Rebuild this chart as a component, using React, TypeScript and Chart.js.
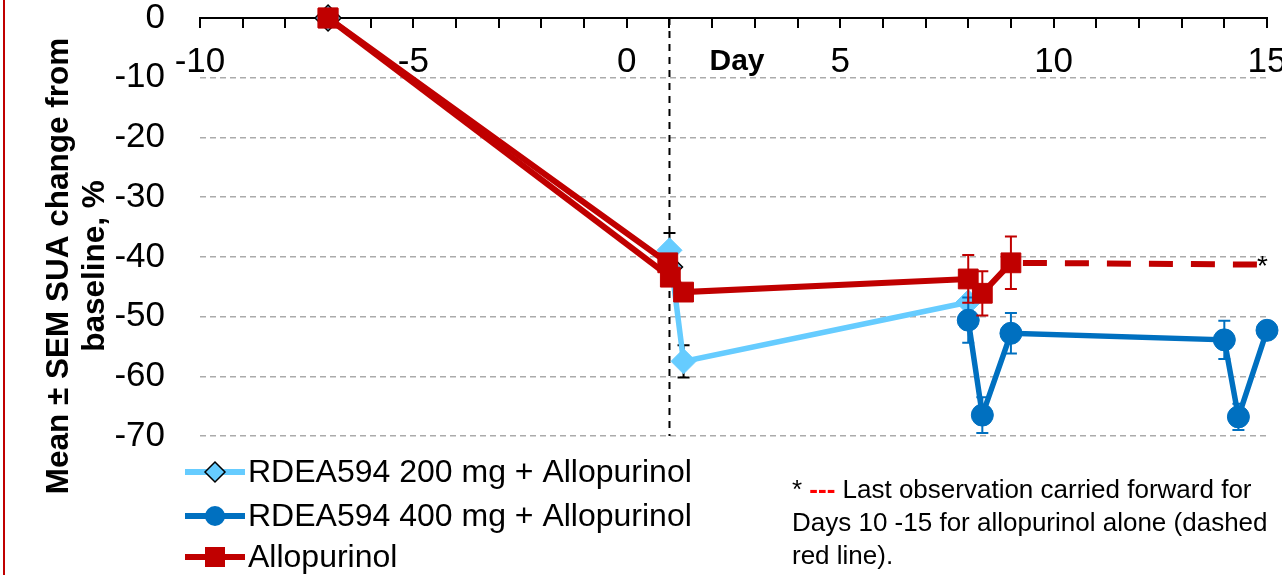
import React, { useEffect, useRef } from 'react';
import { Chart, registerables } from 'chart.js';

Chart.register(...registerables);

const FONT = "Arial, 'Liberation Sans', Helvetica, sans-serif";

// Axes
const X_MIN = -10;
const X_MAX = 15;
const X_STEP = 1;
const X_LABEL_EVERY = 5;
const Y_MIN = -70;
const Y_MAX = 0;
const Y_STEP = 10;
const DOSING_DAY = 1;

const Y_TITLE = ['Mean \u00b1 SEM SUA change from', 'baseline, %'];
const X_TITLE = 'Day';

// Series: Allopurinol (main)
const alloDays = [-7, 0.96, 1.33, 8, 8.33, 9];
const alloValues = [0, -41.0, -45.9, -43.7, -46.1, -41.0];
const alloSem = [0, 0, 0, 4.0, 3.7, 4.4];

// Allopurinol second run-in trace
const allo2Days = [-7, 1.02];
const allo2Values = [0, -43.4];

// Allopurinol LOCF (dashed)
const locfDays = [9, 15];
const locfValues = [-41.0, -41.3];

// RDEA594 200 mg + Allopurinol
const r200Days = [1.0, 1.33, 8];
const r200Values = [-38.9, -57.5, -47.6];
const r200Sem = [2.9, 2.7, 0];

// RDEA594 200 mg run-in markers (mostly hidden)
const r200RunDays = [-7, 1.0];
const r200RunValues = [0, -41.7];

// RDEA594 400 mg + Allopurinol
const r400Days = [8, 8.33, 9, 14, 14.33, 15];
const r400Values = [-50.6, -66.5, -52.8, -53.9, -66.8, -52.3];
const r400Sem = [3.8, 3.0, 3.4, 3.2, 2.2, 0];

const LEGEND_LABELS = ['RDEA594 200 mg + Allopurinol', 'RDEA594 400 mg + Allopurinol', 'Allopurinol'];
const NOTE_LINES = ['Last observation carried forward for', 'Days 10 -15 for allopurinol alone (dashed', 'red line).'];

const RED = '#C00000';
const DARK_BLUE = '#0070C0';
const LIGHT_BLUE = '#66CCFF';

const pts = (xs: number[], ys: number[]) => xs.map((x, i) => ({ x, y: ys[i] }));

const overlayPlugin = {
  id: 'overlay',
  beforeDatasetsDraw(chart: any) {
    const { ctx, chartArea, scales } = chart;
    const px = scales.x.getPixelForValue(DOSING_DAY);
    ctx.save();
    ctx.strokeStyle = '#000';
    ctx.lineWidth = 2;
    ctx.setLineDash([7, 6]);
    ctx.beginPath();
    ctx.moveTo(px, chartArea.top);
    ctx.lineTo(px, chartArea.bottom);
    ctx.stroke();
    ctx.restore();
  },
  beforeDatasetDraw(chart: any, args: any) {
    const ds = chart.data.datasets[args.index];
    if (!ds.sem) return;
    const { ctx, scales } = chart;
    ctx.save();
    ctx.strokeStyle = ds.semColor;
    ctx.lineWidth = 2;
    ctx.setLineDash([]);
    ds.data.forEach((p: any, i: number) => {
      const s = ds.sem[i];
      if (!s) return;
      const px = scales.x.getPixelForValue(p.x);
      const top = scales.y.getPixelForValue(p.y + s);
      const bot = scales.y.getPixelForValue(p.y - s);
      ctx.beginPath();
      ctx.moveTo(px, top);
      ctx.lineTo(px, bot);
      ctx.moveTo(px - 6, top);
      ctx.lineTo(px + 6, top);
      ctx.moveTo(px - 6, bot);
      ctx.lineTo(px + 6, bot);
      ctx.stroke();
    });
    ctx.restore();
  },
  afterDraw(chart: any) {
    const { ctx, scales } = chart;
    ctx.save();
    // Y title
    ctx.fillStyle = '#000';
    ctx.font = `bold 31.5px ${FONT}`;
    ctx.textAlign = 'center';
    ctx.textBaseline = 'middle';
    [59, 95].forEach((cx, i) => {
      ctx.save();
      ctx.translate(cx, 266);
      ctx.rotate(-Math.PI / 2);
      ctx.fillText(Y_TITLE[i], 0, 0);
      ctx.restore();
    });
    // X title
    ctx.font = `bold 30px ${FONT}`;
    ctx.fillText(X_TITLE, 737, 62);

    // asterisk at end of LOCF line
    ctx.font = `28px ${FONT}`;
    ctx.textAlign = 'left';
    ctx.fillText('*', scales.x.getPixelForValue(locfDays[1]) - 10, scales.y.getPixelForValue(locfValues[1]) + 3);

    // Legend
    const items = [
      { color: LIGHT_BLUE, style: 'diamond' },
      { color: DARK_BLUE, style: 'circle' },
      { color: RED, style: 'square' },
    ];
    const rows = [472, 516, 557];
    items.forEach((it, i) => {
      const y = rows[i];
      ctx.strokeStyle = it.color;
      ctx.lineWidth = 6;
      ctx.beginPath();
      ctx.moveTo(185, y);
      ctx.lineTo(245, y);
      ctx.stroke();
      const cx = 215;
      ctx.fillStyle = it.color;
      ctx.beginPath();
      if (it.style === 'diamond') {
        ctx.moveTo(cx - 10, y);
        ctx.lineTo(cx, y - 10);
        ctx.lineTo(cx + 10, y);
        ctx.lineTo(cx, y + 10);
        ctx.closePath();
        ctx.fill();
        ctx.strokeStyle = '#000';
        ctx.lineWidth = 1.5;
        ctx.stroke();
      } else if (it.style === 'circle') {
        ctx.arc(cx, y, 10, 0, Math.PI * 2);
        ctx.fill();
      } else {
        ctx.rect(cx - 10, y - 10, 20, 20);
        ctx.fill();
      }
      ctx.fillStyle = '#000';
      ctx.font = `32px ${FONT}`;
      ctx.textAlign = 'left';
      ctx.textBaseline = 'middle';
      ctx.fillText(LEGEND_LABELS[i], 248, y + 1);
    });

    // Note
    ctx.font = `26px ${FONT}`;
    ctx.textBaseline = 'middle';
    let nx = 792;
    const ny = 491;
    ctx.fillStyle = '#000';
    ctx.fillText('* ', nx, ny);
    nx += ctx.measureText('* ').width;
    ctx.font = `bold 26px ${FONT}`;
    ctx.fillStyle = '#FF0000';
    ctx.fillText('---', nx, ny);
    nx += ctx.measureText('---').width;
    ctx.font = `26px ${FONT}`;
    ctx.fillStyle = '#000';
    ctx.fillText(' ' + NOTE_LINES[0], nx, ny);
    ctx.fillText(NOTE_LINES[1], 792, 524);
    ctx.fillText(NOTE_LINES[2], 792, 557);
    ctx.restore();
  },
};

export default function App() {
  const ref = useRef<HTMLCanvasElement>(null);
  useEffect(() => {
    const canvas = ref.current!;
    const chart = new Chart(canvas, {
      type: 'line',
      data: {
        datasets: [
          {
            label: 'Allopurinol',
            data: pts(alloDays, alloValues),
            borderColor: RED,
            backgroundColor: RED,
            borderWidth: 6,
            pointStyle: 'rect',
            pointRadius: 14,
            pointBorderWidth: 1,
            pointBorderColor: RED,
            pointBackgroundColor: RED,
            sem: alloSem,
            semColor: RED,
            order: 0,
            clip: false,
          } as any,
          {
            label: 'Allopurinol (2)',
            data: pts(allo2Days, allo2Values),
            borderColor: RED,
            backgroundColor: RED,
            borderWidth: 6,
            pointStyle: 'rect',
            pointRadius: 14,
            pointBorderWidth: 1,
            pointBorderColor: RED,
            pointBackgroundColor: RED,
            order: 1,
            clip: false,
          } as any,
          {
            label: 'Allopurinol LOCF',
            data: pts(locfDays, locfValues),
            borderColor: RED,
            borderWidth: 6,
            borderDash: [24, 18],
            borderDashOffset: 30,
            pointRadius: 0,
            order: 2,
            clip: false,
          } as any,
          {
            label: 'RDEA594 400 mg + Allopurinol',
            data: pts(r400Days, r400Values),
            borderColor: DARK_BLUE,
            backgroundColor: DARK_BLUE,
            borderWidth: 5.5,
            pointStyle: 'circle',
            pointRadius: 11,
            pointBorderWidth: 1,
            pointBorderColor: DARK_BLUE,
            pointBackgroundColor: DARK_BLUE,
            sem: r400Sem,
            semColor: DARK_BLUE,
            order: 3,
            clip: false,
          } as any,
          {
            label: 'RDEA594 200 mg + Allopurinol',
            data: pts(r200Days, r200Values),
            borderColor: LIGHT_BLUE,
            backgroundColor: LIGHT_BLUE,
            borderWidth: 5.5,
            pointStyle: 'rectRot',
            pointRadius: 12.5,
            pointBorderWidth: 1,
            pointBorderColor: LIGHT_BLUE,
            pointBackgroundColor: LIGHT_BLUE,
            sem: r200Sem,
            semColor: '#000',
            order: 4,
            clip: false,
          } as any,
          {
            label: 'RDEA594 200 mg run-in',
            data: pts(r200RunDays, r200RunValues),
            showLine: false,
            pointStyle: 'rectRot',
            pointRadius: 13,
            pointBorderWidth: 1.5,
            pointBorderColor: '#000',
            pointBackgroundColor: LIGHT_BLUE,
            order: 5,
            clip: false,
          } as any,
        ],
      },
      options: {
        responsive: false,
        animation: false,
        devicePixelRatio: 1,
        layout: { padding: { left: 8, right: 14, top: 18, bottom: 139 } },
        plugins: { legend: { display: false }, tooltip: { enabled: false } },
        elements: { line: { tension: 0 } },
        scales: {
          x: {
            type: 'linear',
            min: X_MIN,
            max: X_MAX,
            position: { y: 0 } as any,
            ticks: {
              stepSize: X_STEP,
              autoSkip: false,
              maxRotation: 0,
              padding: 14,
              color: '#000',
              font: { size: 35, family: FONT },
              callback: (v: any) => (Number(v) % X_LABEL_EVERY === 0 ? String(v) : ''),
            },
            grid: { display: true, drawOnChartArea: false, drawTicks: true, tickLength: 9, color: '#000', lineWidth: 2 },
            border: { display: true, color: '#000', width: 2 },
            afterFit: (s: any) => {
              s.paddingLeft = 0;
              s.paddingRight = 0;
            },
          } as any,
          y: {
            type: 'linear',
            min: Y_MIN,
            max: Y_MAX,
            ticks: {
              stepSize: Y_STEP,
              padding: 35,
              color: '#000',
              font: { size: 35, family: FONT },
            },
            grid: { color: '#ABABAB', lineWidth: 1.5, drawTicks: false },
            border: { display: false, dash: [6, 4] },
            afterFit: (s: any) => {
              s.width = 192;
              s.paddingTop = 0;
              s.paddingBottom = 0;
            },
          } as any,
        },
      },
      plugins: [overlayPlugin],
    } as any);
    return () => chart.destroy();
  }, []);
  return (
    <div style={{ position: 'absolute', left: 0, top: 0, width: 1282, height: 575, background: '#fff' }}>
      <div style={{ position: 'absolute', left: 3, top: 0, width: 2, height: 575, background: RED }} />
      <canvas ref={ref} width={1282} height={575} style={{ position: 'absolute', left: 0, top: 0 }} />
    </div>
  );
}
